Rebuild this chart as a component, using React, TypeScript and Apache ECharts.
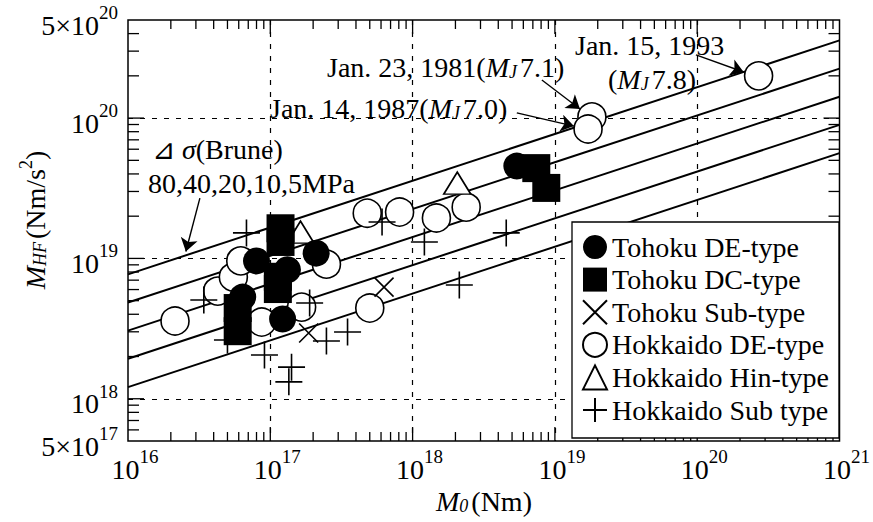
import { useEffect, useRef } from 'react';
import * as echarts from 'echarts';

const FONT = '"Liberation Serif", "Times New Roman", Times, serif';

// Axis extents: seismic moment M0 (Nm) and high-frequency level M_HF (Nm/s^2)
const X_MIN = 1e16;
const X_MAX = 1e21;
const Y_MIN = 5e17;
const Y_MAX = 5e20;

// Tick positions (log decades and the 2..9 subdivisions)
const tickMantissas = [2, 3, 4, 5, 6, 7, 8, 9];
const xDecades = [16, 17, 18, 19, 20];
const yDecades = [17, 18, 19, 20];

// Brune constant-stress-drop lines, values at both ends of the M0 range
const stressDrops = ['80', '40', '20', '10', '5'];
const bruneAtXMin = [7.7e18, 4.85e18, 3.06e18, 1.93e18, 1.21e18];
const bruneAtXMax = [3.58e20, 2.25e20, 1.42e20, 8.95e19, 5.63e19];

// Event groups: [M0, M_HF]
const tohokuDE: number[][] = [
  [5.4e18, 4.55e19],
  [6.4e16, 5.3e18],
  [8.0e16, 9.6e18],
  [2.1e17, 1.09e19],
  [1.32e17, 8.3e18],
  [1.22e17, 3.7e18],
];
const tohokuDC: number[][] = [
  [1.18e17, 1.64e19],
  [1.18e17, 1.31e19],
  [1.13e17, 7.4e18],
  [1.13e17, 6.05e18],
  [5.9e16, 4.43e18],
  [5.9e16, 3.03e18],
  [7.4e18, 4.4e19],
  [8.7e18, 3.18e19],
];
const tohokuSub: number[][] = [
  [6.3e17, 6.25e18],
  [1.86e17, 2.94e18],
];
const hokkaidoDE: number[][] = [
  [2.14e16, 3.58e18],
  [4.27e16, 5.85e18],
  [5.5e16, 7.36e18],
  [6.2e16, 9.6e18],
  [2.48e17, 9.1e18],
  [4.8e17, 2.1e19],
  [5.0e17, 4.43e18],
  [8.1e17, 2.14e19],
  [1.47e18, 1.94e19],
  [2.38e18, 2.32e19],
  [1.82e19, 1.02e20],
  [1.71e19, 8.36e19],
  [2.7e20, 2.0e20],
  [1.66e17, 4.5e18],
  [8.7e16, 3.52e18],
];
const hokkaidoHin: number[][] = [
  [2.06e18, 3.44e19],
  [1.63e17, 1.54e19],
];
const hokkaidoSub: number[][] = [
  [6.8e16, 1.52e19],
  [3.41e16, 5.05e18],
  [1.89e17, 4.81e18],
  [3.49e17, 2.99e18],
  [2.48e17, 2.58e18],
  [1.41e17, 1.68e18],
  [1.35e17, 1.32e18],
  [9.1e16, 2.05e18],
  [5.0e16, 2.62e18],
  [6.1e17, 1.82e19],
  [1.21e18, 1.31e19],
  [4.55e18, 1.52e19],
  [2.13e18, 6.46e18],
];

const legendOrder = [
  'Tohoku DE-type',
  'Tohoku DC-type',
  'Tohoku Sub-type',
  'Hokkaido DE-type',
  'Hokkaido Hin-type',
  'Hokkaido Sub type',
];

// Annotation arrows: [from, to] in data coordinates
const arrows: number[][][] = [
  [[3.2e16, 2.69e19], [2.55e16, 1.12e19]],
  [[8.1e18, 1.87e20], [1.5e19, 1.16e20]],
  [[5.4e18, 1.09e20], [1.36e19, 8.77e19]],
  [[9.8e19, 2.82e20], [2.12e20, 2.13e20]],
];

const PLUS = 'path://M0,10L20,10M10,0L10,20';
const CROSS = 'path://M0,0L20,20M20,0L0,20';

const tickRich = {
  b: { fontFamily: FONT, fontSize: 28, lineHeight: 36, verticalAlign: 'bottom', color: '#000' },
  s: { fontFamily: FONT, fontSize: 19, lineHeight: 14, verticalAlign: 'top', color: '#000' },
};

const textRich = {
  n: { fontFamily: FONT, fontSize: 28, lineHeight: 32, verticalAlign: 'bottom', fill: '#000', color: '#000' },
  i: { fontFamily: FONT, fontSize: 28, fontStyle: 'italic', lineHeight: 32, verticalAlign: 'bottom', fill: '#000', color: '#000' },
  sub: { fontFamily: FONT, fontSize: 18, fontStyle: 'italic', lineHeight: 12, verticalAlign: 'bottom', fill: '#000', color: '#000', padding: [0, 3, 0, 0] },
  sup: { fontFamily: FONT, fontSize: 18, lineHeight: 14, verticalAlign: 'top', fill: '#000', color: '#000' },
};

function powerLabel(v: number): string {
  const e = Math.log10(v);
  const n = Math.round(e);
  if (Math.abs(e - n) < 1e-6) return `{b|10}{s|${n}}`;
  const d = Math.floor(e + 1e-9);
  const m = Math.round(v / Math.pow(10, d));
  return `{b|${m}×10}{s|${d}}`;
}

function buildTicks(): number[][] {
  const out: number[][] = [];
  xDecades.forEach((d) => {
    if (d > 16) out.push([Math.pow(10, d), Y_MIN, 1]);
    tickMantissas.forEach((m) => out.push([m * Math.pow(10, d), Y_MIN, 0]));
  });
  yDecades.forEach((d) => {
    const base = Math.pow(10, d);
    if (base >= Y_MIN && base <= Y_MAX && d > 17) out.push([X_MIN, base, 3]);
    tickMantissas.forEach((m) => {
      const v = m * base;
      if (v > Y_MIN * 1.0001 && v < Y_MAX * 0.9999) out.push([X_MIN, v, 2]);
    });
  });
  return out;
}

function text(x: number, y: number, t: string, extra: Record<string, unknown> = {}) {
  return {
    type: 'text',
    x,
    y,
    silent: true,
    z: 100,
    ...extra,
    style: {
      text: t,
      rich: textRich,
      fill: '#000',
      font: `28px ${FONT}`,
      align: 'left',
      verticalAlign: 'middle',
    },
  };
}

function buildOption() {
  const markerSeries = (
    name: string,
    data: number[][],
    symbol: string,
    size: number | number[],
    itemStyle: Record<string, unknown>,
  ) => ({
    name,
    type: 'scatter',
    data,
    symbol,
    symbolSize: size,
    itemStyle: { opacity: 1, ...itemStyle },
    silent: true,
    z: 3,
  });

  const lineSeries = stressDrops.map((sd, i) => ({
    name: `${sd} MPa`,
    type: 'line',
    data: [
      [X_MIN, bruneAtXMin[i]],
      [X_MAX, bruneAtXMax[i]],
    ],
    showSymbol: false,
    symbol: 'none',
    lineStyle: { color: '#000', width: 2 },
    silent: true,
    z: 2,
  }));

  return {
    animation: false,
    backgroundColor: '#fff',
    grid: {
      left: 128,
      top: 20,
      width: 713,
      height: 421,
      show: true,
      borderColor: '#000',
      borderWidth: 1.5,
      backgroundColor: 'transparent',
    },
    xAxis: {
      type: 'log',
      logBase: 10,
      min: X_MIN,
      max: X_MAX,
      axisLine: { show: false },
      axisTick: { show: false },
      splitLine: {
        show: true,
        showMinLine: false,
        showMaxLine: false,
        lineStyle: { color: '#000', width: 1.2, type: [5, 7] },
      },
      axisLabel: {
        formatter: powerLabel,
        rich: tickRich,
        margin: 6,
        padding: [0, 0, 0, 14],
      },
    },
    yAxis: {
      type: 'log',
      logBase: 10,
      min: Y_MIN,
      max: Y_MAX,
      axisLine: { show: false },
      axisTick: { show: false },
      splitLine: {
        show: true,
        showMinLine: false,
        showMaxLine: false,
        lineStyle: { color: '#000', width: 1.2, type: [5, 7] },
      },
      axisLabel: {
        formatter: powerLabel,
        rich: tickRich,
        margin: 10,
        padding: [2, 0, 0, 0],
      },
    },
    legend: {
      orient: 'vertical',
      left: 572,
      top: 222,
      data: legendOrder,
      itemWidth: 24,
      itemHeight: 24,
      itemGap: 4.6,
      padding: [11, 10, 14, 10],
      borderColor: '#000',
      borderWidth: 1.3,
      borderRadius: 0,
      backgroundColor: '#fff',
      selectedMode: false,
      textStyle: { fontFamily: FONT, fontSize: 28, color: '#000', lineHeight: 28 },
      z: 20,
    },
    graphic: [
      text(152, 147, '{n|⊿ }{i|σ}{n|(Brune)}'),
      text(148, 181, '{n|80,40,20,10,5MPa}'),
      text(327, 65, '{n|Jan. 23, 1981(}{i|M}{sub|J}{n|7.1)}'),
      text(270, 106, '{n|Jan. 14, 1987(}{i|M}{sub|J}{n|7.0)}'),
      text(575, 43, '{n|Jan. 15, 1993}'),
      text(608, 77, '{n|(}{i|M}{sub|J}{n|7.8)}'),
      {
        type: 'text',
        x: 436,
        y: 499,
        silent: true,
        style: {
          text: '{i|M}{sub|0}{n|(Nm)}',
          rich: textRich,
          fill: '#000',
          align: 'left',
          verticalAlign: 'middle',
        },
      },
      {
        type: 'text',
        x: 33,
        y: 220,
        rotation: Math.PI / 2,
        silent: true,
        style: {
          text: '{i|M}{sub|HF}{n|(Nm/s}{sup|2}{n|)}',
          rich: textRich,
          fill: '#000',
          align: 'center',
          verticalAlign: 'middle',
        },
      },
    ],
    series: [
      ...lineSeries,
      {
        name: 'ticks',
        type: 'custom',
        data: buildTicks(),
        encode: { x: 0, y: 1 },
        clip: false,
        silent: true,
        z: 6,
        renderItem: (params: any, api: any) => {
          const kind = api.value(2);
          const cs = params.coordSys;
          const style = { stroke: '#000', lineWidth: 1.3 };
          if (kind < 2) {
            const px = api.coord([api.value(0), Y_MIN])[0];
            const len = kind === 1 ? 14 : 9;
            return {
              type: 'group',
              children: [
                { type: 'line', shape: { x1: px, y1: cs.y + cs.height, x2: px, y2: cs.y + cs.height - len }, style },
                { type: 'line', shape: { x1: px, y1: cs.y, x2: px, y2: cs.y + len }, style },
              ],
            };
          }
          const py = api.coord([X_MIN, api.value(1)])[1];
          const len = kind === 3 ? 16 : 11;
          return {
            type: 'group',
            children: [
              { type: 'line', shape: { x1: cs.x, y1: py, x2: cs.x + len, y2: py }, style },
              { type: 'line', shape: { x1: cs.x + cs.width, y1: py, x2: cs.x + cs.width - len, y2: py }, style },
            ],
          };
        },
      },
      {
        name: 'arrows',
        type: 'lines',
        coordinateSystem: 'cartesian2d',
        data: arrows.map((c) => ({ coords: c })),
        symbol: ['none', 'arrow'],
        symbolSize: 13,
        lineStyle: { color: '#000', width: 1.4, opacity: 1 },
        silent: true,
        z: 5,
      },
      markerSeries('Hokkaido DE-type', hokkaidoDE, 'circle', 28, { color: '#fff', borderColor: '#000', borderWidth: 1.6 }),
      markerSeries('Hokkaido Hin-type', hokkaidoHin, 'triangle', [27, 22], { color: '#fff', borderColor: '#000', borderWidth: 1.6 }),
      markerSeries('Tohoku DC-type', tohokuDC, 'rect', 28, { color: '#000', borderColor: '#000', borderWidth: 0 }),
      markerSeries('Tohoku DE-type', tohokuDE, 'circle', 27, { color: '#000', borderColor: '#000', borderWidth: 0 }),
      markerSeries('Tohoku Sub-type', tohokuSub, CROSS, 19, { color: '#000', borderColor: '#000', borderWidth: 1.6 }),
      markerSeries('Hokkaido Sub type', hokkaidoSub, PLUS, 27, { color: '#000', borderColor: '#000', borderWidth: 1.6 }),
    ],
  };
}

export default function App() {
  const ref = useRef<HTMLDivElement>(null);
  useEffect(() => {
    if (!ref.current) return;
    const chart = echarts.init(ref.current, null, { renderer: 'svg' });
    chart.setOption(buildOption() as any);
    return () => chart.dispose();
  }, []);
  return (
    <div
      ref={ref}
      style={{ position: 'fixed', left: 0, top: 0, width: 873, height: 522, background: '#fff' }}
    />
  );
}
